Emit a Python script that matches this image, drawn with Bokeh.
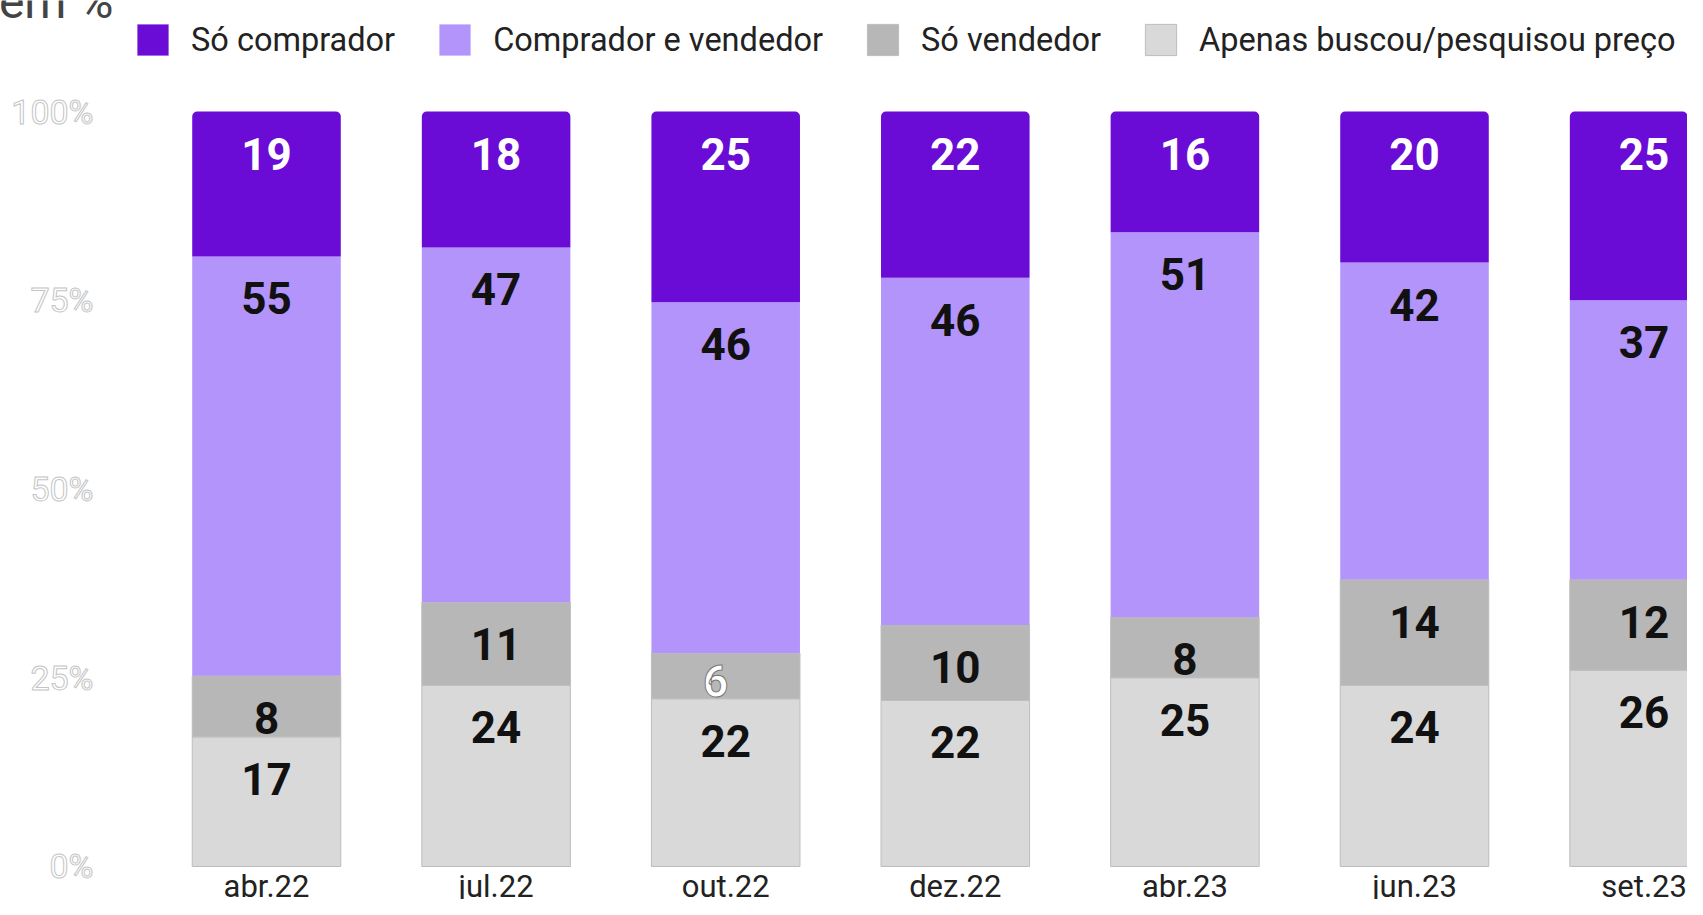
import numpy as np
from bokeh.plotting import figure
from bokeh.models import ColumnDataSource, Range1d, Legend, LegendItem
from bokeh.core.properties import value
from bokeh.embed import file_html
from bokeh.resources import INLINE

# ---------------- data ----------------
categories = ["abr.22", "jul.22", "out.22", "dez.22", "abr.23", "jun.23", "set.23"]
so_comprador = [19, 18, 25, 22, 16, 20, 25]
comprador_vendedor = [55, 47, 46, 46, 51, 42, 37]
so_vendedor = [8, 11, 6, 10, 8, 14, 12]
apenas_buscou = [17, 24, 22, 22, 25, 24, 26]
series_names = ["Só comprador", "Comprador e vendedor", "Só vendedor",
                "Apenas buscou/pesquisou preço"]
y_ticks = [0, 25, 50, 75, 100]
y_tick_labels = ["0%", "25%", "50%", "75%", "100%"]
title_text = "em %"

# ---------------- layout ----------------
W, H = 1687, 899
Y0, Y1 = -4.373, 114.708
X0, X1 = -1.15854, 6.18902
PPU = H / (Y1 - Y0)  # pixels per percentage unit

p = figure(width=W, height=H, x_range=Range1d(X0, X1), y_range=Range1d(Y0, Y1),
           output_backend="svg", toolbar_location=None,
           min_border_left=0, min_border_right=0, min_border_top=0,
           min_border_bottom=0, x_axis_location=None, y_axis_location=None)
p.outline_line_color = None
p.grid.visible = False
p.background_fill_color = "white"

FONT = "Roboto"

# stacking (bottom -> top), normalised to 100 per bar
layers = [apenas_buscou, so_vendedor, comprador_vendedor, so_comprador]
layer_names = [series_names[3], series_names[2], series_names[1], series_names[0]]
fills = ["#d9d9d9", "#b7b7b7", "#b394fb", "#6a0bd6"]
lines = ["#bdbdbd", "#bdbdbd", None, None]
text_colors = ["#111111", "#111111", "#111111", "#ffffff"]

xs = np.arange(len(categories))
totals = np.sum(np.array(layers, dtype=float), axis=0)
bottom = np.zeros(len(categories))
renderers = {}
for vals, name, fc, lc, tc in zip(layers, layer_names, fills, lines, text_colors):
    h = np.array(vals, dtype=float) / totals * 100.0
    top = bottom + h
    hpx = h * PPU
    off_px = np.minimum(42.0, hpx - 18.0)
    label_y = top - off_px / PPU
    small = hpx < 50
    src = ColumnDataSource(dict(x=xs, bottom=bottom.copy(), top=top))
    kw = dict(x="x", width=0.647, bottom="bottom", top="top", source=src,
              fill_color=fc)
    if lc is None:
        kw["line_color"] = None
    else:
        kw["line_color"] = lc
        kw["line_width"] = 1
    if name == series_names[0]:
        kw["border_radius"] = (5, 5, 0, 0)
    r = p.vbar(**kw)
    renderers[name] = r

    big_idx = [i for i in range(len(vals)) if not small[i]]
    small_idx = [i for i in range(len(vals)) if small[i]]
    if big_idx:
        p.text(x=[xs[i] for i in big_idx], y=[label_y[i] for i in big_idx],
               text=[str(vals[i]) for i in big_idx], text_align="center",
               text_baseline="middle", text_font=value(FONT), text_font_style="bold",
               text_font_size="44px", text_color=tc)
    if small_idx:
        p.text(x=[xs[i] for i in small_idx], y=[label_y[i] for i in small_idx],
               text=[str(vals[i]) for i in small_idx], text_align="center",
               text_baseline="middle", text_font=value(FONT), text_font_style="bold",
               text_font_size="44px", text_color="#ffffff", x_offset=-10,
               text_outline_color="#777777")
    bottom = top

# category labels under the bars
p.text(x=xs, y=[-2.65] * len(xs), text=categories, text_align="center",
       text_baseline="middle", text_font=value(FONT), text_font_size="31px",
       text_color="#222222")

# percentage scale labels (white with light outline)
p.text(x=[-0.75348] * len(y_ticks), y=y_ticks, text=y_tick_labels,
       text_align="right", text_baseline="middle", text_font=value(FONT),
       text_font_size="34px", text_color="#ffffff", text_outline_color="#c4c4c4")

# partially visible title at top-left
p.text(x=[-0.66638], y=[114.6], text=[title_text], text_align="right",
       text_baseline="middle", text_font=value(FONT), text_font_size="48px",
       text_color="#444444")

# legend
legend = Legend(items=[LegendItem(label=n, renderers=[renderers[n]]) for n in series_names],
                orientation="horizontal", location=(133, 840),
                glyph_width=39, glyph_height=39, label_standoff=19, spacing=40,
                padding=0, margin=0, border_line_color=None,
                background_fill_alpha=0, label_text_font=FONT,
                label_text_font_size="32.5px", label_text_color="#222222",
                label_height=39)
p.add_layout(legend)

open("out.html", "w").write(file_html(p, INLINE))
